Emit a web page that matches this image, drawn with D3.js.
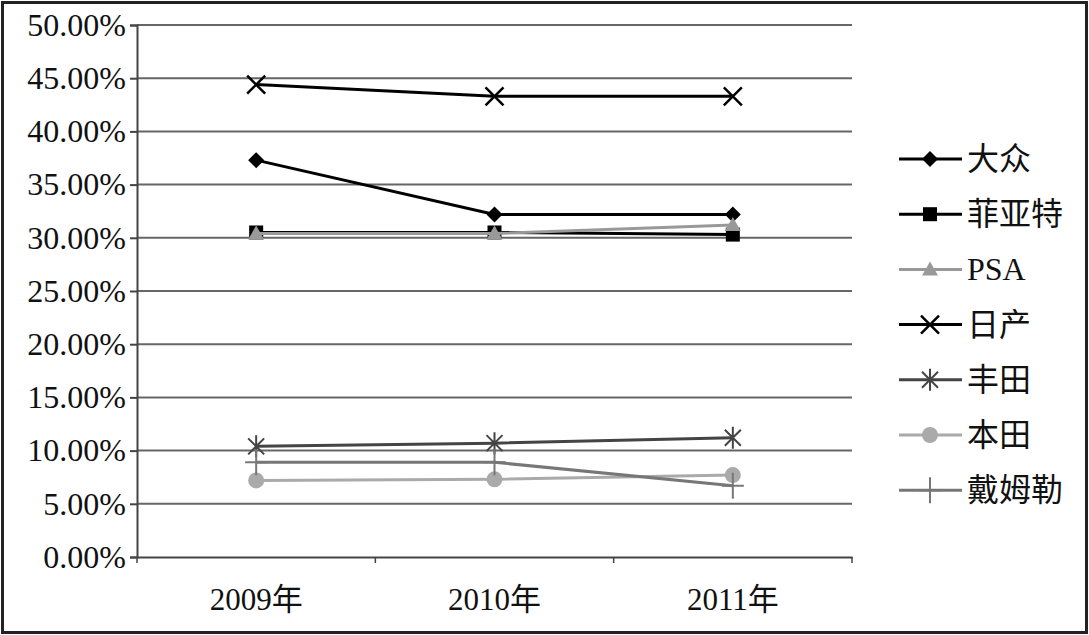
<!DOCTYPE html>
<html>
<head>
<meta charset="utf-8">
<script src="https://cdn.jsdelivr.net/npm/d3@7"></script>
<style>
  body { margin: 0; background: #fff; }
  svg text { font-family: "Liberation Serif", "Noto Sans CJK SC", serif; fill: #111; }
</style>
</head>
<body>
<svg id="chart" width="1089" height="635"></svg>
<script>
const years = ["2009年", "2010年", "2011年"]
const yTicks = [0, 0.05, 0.10, 0.15, 0.20, 0.25, 0.30, 0.35, 0.40, 0.45, 0.50]

const seriesNames = ["大众", "菲亚特", "PSA", "日产", "丰田", "本田", "戴姆勒"]
const vw      = [0.373, 0.322, 0.322]
const fiat    = [0.305, 0.305, 0.303]
const psa     = [0.304, 0.304, 0.312]
const nissan  = [0.444, 0.433, 0.433]
const toyota  = [0.104, 0.107, 0.112]
const honda   = [0.072, 0.073, 0.077]
const daimler = [0.089, 0.089, 0.067]

const seriesValues = [vw, fiat, psa, nissan, toyota, honda, daimler]
const seriesColors = ["#000", "#000", "#999", "#000", "#444", "#aaa", "#777"]
const seriesMarkers = ["diamond", "square", "triangle", "x", "asterisk", "circle", "plus"]

const svg = d3.select("#chart")
const margin = {left: 137, right: 237, top: 25, bottom: 78}
const W = 1089, H = 635

// outer frame
svg.append("rect")
  .attr("x", 2.5).attr("y", 2.5)
  .attr("width", W - 5).attr("height", H - 5)
  .attr("fill", "#fff").attr("stroke", "#222").attr("stroke-width", 3)

const x = d3.scaleBand().domain(years).range([margin.left, W - margin.right])
const y = d3.scaleLinear().domain([0, 0.5]).range([H - margin.bottom, margin.top])

// gridlines
svg.append("g").selectAll("line")
  .data(yTicks.slice(1))
  .join("line")
  .attr("x1", margin.left).attr("x2", W - margin.right)
  .attr("y1", d => y(d)).attr("y2", d => y(d))
  .attr("stroke", "#666").attr("stroke-width", 2)

// y axis
const yAxis = svg.append("g")
  .attr("transform", `translate(${margin.left},0)`)
  .call(d3.axisLeft(y).tickValues(yTicks).tickFormat(d3.format(".2%")).tickSize(7).tickPadding(4))
yAxis.select(".domain").attr("stroke", "#444").attr("stroke-width", 2)
yAxis.selectAll(".tick line").attr("stroke", "#444").attr("stroke-width", 2)
yAxis.selectAll("text").style("font-size", "32px").attr("fill", "#111")

// x axis
const xAxis = svg.append("g")
  .attr("transform", `translate(0,${H - margin.bottom})`)
  .call(d3.axisBottom(x).tickSize(0).tickPadding(31))
xAxis.select(".domain").attr("stroke", "#444").attr("stroke-width", 2)
xAxis.selectAll("text").style("font-size", "31px").attr("fill", "#111")
xAxis.selectAll("line.sep")
  .data([0, 1, 2, 3])
  .join("line")
  .attr("class", "sep")
  .attr("x1", i => margin.left + i * x.step()).attr("x2", i => margin.left + i * x.step())
  .attr("y1", 0).attr("y2", 6)
  .attr("stroke", "#444").attr("stroke-width", 1.5)

const cx = d => x(d) + x.bandwidth() / 2

function drawMarker(g, type, color) {
  if (type === "diamond") {
    g.append("path").attr("d", "M0,-8L8,0L0,8L-8,0Z").attr("fill", color)
  } else if (type === "square") {
    g.append("rect").attr("x", -7).attr("y", -7).attr("width", 14).attr("height", 14).attr("fill", color)
  } else if (type === "triangle") {
    g.append("path").attr("d", "M0,-8L8,6L-8,6Z").attr("fill", color)
  } else if (type === "x") {
    g.append("path").attr("d", "M-9,-9L9,9M-9,9L9,-9").attr("stroke", color).attr("stroke-width", 2.5)
  } else if (type === "asterisk") {
    g.append("path").attr("d", "M-8,-8L8,8M-8,8L8,-8M0,-11L0,11").attr("stroke", color).attr("stroke-width", 2)
  } else if (type === "circle") {
    g.append("circle").attr("r", 8).attr("fill", color)
  } else if (type === "plus") {
    g.append("path").attr("d", "M0,-13L0,13M-11,0L11,0").attr("stroke", color).attr("stroke-width", 2)
  }
}

const line = d3.line().x((d, i) => cx(years[i])).y(d => y(d))

// series drawn in legend order, later ones on top
seriesValues.forEach((vals, s) => {
  const g = svg.append("g")
  g.append("path")
    .attr("d", line(vals))
    .attr("fill", "none")
    .attr("stroke", seriesColors[s])
    .attr("stroke-width", 3)
  vals.forEach((v, i) => {
    const m = g.append("g").attr("transform", `translate(${cx(years[i])},${y(v)})`)
    drawMarker(m, seriesMarkers[s], seriesColors[s])
  })
})

// legend
const legend = svg.append("g").attr("transform", "translate(899,159)")
seriesNames.forEach((name, i) => {
  const row = legend.append("g").attr("transform", `translate(0,${i * 55.2})`)
  row.append("line").attr("x1", 0).attr("x2", 63).attr("y1", 0).attr("y2", 0)
    .attr("stroke", seriesColors[i]).attr("stroke-width", 3)
  const m = row.append("g").attr("transform", "translate(31,0)")
  drawMarker(m, seriesMarkers[i], seriesColors[i])
  row.append("text").attr("x", 68).attr("y", 11)
    .style("font-size", "32px").text(name)
})
</script>
</body>
</html>
